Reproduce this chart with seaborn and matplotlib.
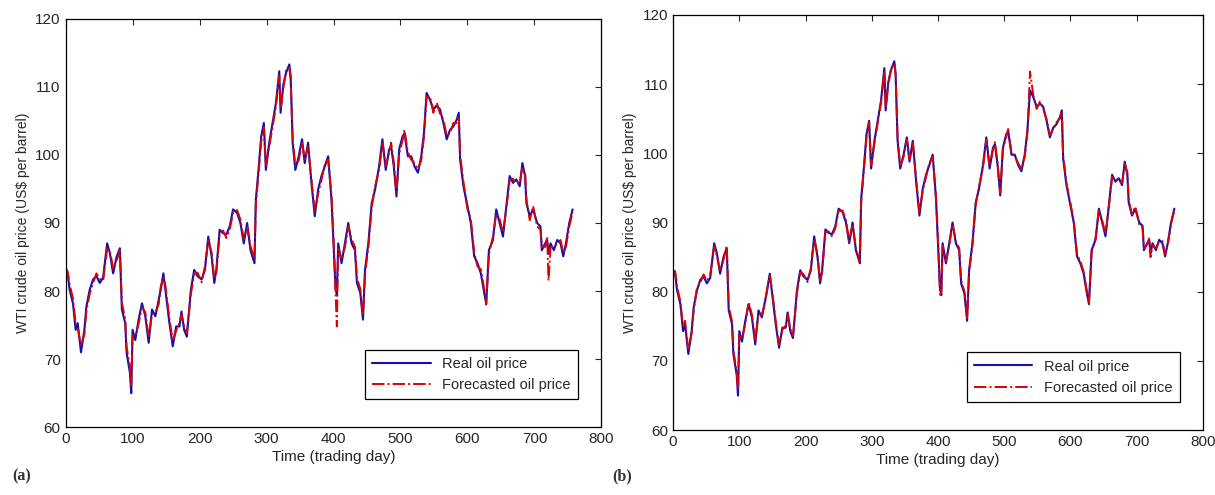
import matplotlib
matplotlib.use("Agg")
import matplotlib.pyplot as plt
import seaborn as sns

# trading days
days = [
    0, 3, 6, 11, 15, 18, 23, 28, 31, 36,
    41, 46, 51, 56, 62, 66, 71, 76, 81, 84,
    89, 91, 96, 98, 100, 104, 109, 114, 119, 124,
    129, 134, 139, 142, 146, 149, 155, 160, 165, 170,
    173, 177, 181, 187, 192, 197, 203, 208, 213, 218,
    222, 225, 230, 235, 240, 245, 250, 256, 261, 266,
    271, 276, 282, 284, 288, 292, 296, 299, 304, 309,
    314, 319, 321, 325, 329, 334, 336, 339, 343, 348,
    353, 357, 362, 367, 372, 377, 382, 387, 392, 397,
    401, 403, 405, 407, 412, 417, 422, 427, 432, 435,
    440, 444, 447, 452, 457, 462, 468, 473, 478, 483,
    486, 490, 494, 498, 503, 506, 511, 516, 521, 526,
    531, 535, 539, 544, 549, 554, 559, 564, 569, 574,
    579, 584, 587, 589, 594, 600, 605, 610, 615, 620,
    625, 628, 630, 632, 638, 643, 648, 653, 658, 663,
    668, 673, 678, 682, 686, 688, 693, 698, 704, 709,
    711, 716, 719, 721, 724, 729, 734, 739, 743, 747,
    752, 757,
]

real_price = [
    83.0, 82.6, 80.2, 78.2, 74.3, 75.3, 71.0, 74.3, 77.7, 80.2,
    81.7, 82.2, 81.2, 82.0, 87.0, 85.6, 82.6, 85.0, 86.3, 77.3,
    75.3, 71.0, 68.0, 65.0, 74.3, 72.8, 75.8, 78.2, 76.3, 72.4,
    77.3, 76.3, 78.7, 80.2, 82.6, 80.2, 75.3, 71.9, 74.8, 74.8,
    77.0, 74.3, 73.3, 80.2, 83.1, 82.2, 81.7, 83.1, 88.0, 85.1,
    81.2, 83.1, 89.0, 88.5, 88.3, 89.5, 92.0, 91.5, 90.0, 87.0,
    90.0, 86.0, 84.1, 93.4, 97.8, 102.7, 104.7, 97.8, 101.8, 104.7,
    107.6, 112.3, 106.2, 110.3, 112.0, 113.3, 111.6, 101.8, 97.8, 99.8,
    102.3, 98.8, 101.8, 95.9, 91.0, 94.9, 96.9, 98.3, 99.8, 93.4,
    85.0, 80.5, 79.5, 87.0, 84.1, 87.0, 90.0, 87.0, 86.0, 81.2,
    79.7, 75.8, 83.1, 87.0, 92.9, 94.9, 98.3, 102.3, 97.8, 100.8,
    101.3, 98.3, 93.9, 100.8, 102.7, 103.2, 99.8, 99.8, 98.3, 97.4,
    99.8, 103.2, 109.1, 108.1, 106.7, 107.2, 106.7, 104.7, 102.3, 103.7,
    104.2, 105.2, 106.2, 99.3, 95.4, 92.5, 90.0, 85.1, 84.1, 82.6,
    79.7, 78.2, 82.2, 86.0, 87.5, 92.0, 90.0, 88.0, 92.5, 96.9,
    95.9, 96.4, 95.4, 98.8, 96.9, 92.9, 91.0, 92.0, 90.0, 89.5,
    86.0, 87.0, 87.5, 85.5, 87.0, 86.0, 87.5, 87.0, 85.1, 87.0,
    90.0, 92.0,
]

# forecast of model (a)
forecast_a = [
    83.4, 82.9, 81.0, 78.9, 75.2, 74.6, 72.0, 73.6, 77.0, 79.6,
    81.2, 82.6, 81.8, 81.5, 86.2, 86.0, 83.3, 84.4, 86.0, 78.3,
    75.9, 71.8, 68.9, 66.2, 73.5, 73.3, 75.2, 77.6, 76.9, 73.2,
    76.6, 76.8, 78.1, 80.6, 82.1, 80.8, 76.0, 72.6, 74.2, 75.3,
    76.5, 74.9, 73.8, 79.5, 82.6, 82.7, 81.3, 83.6, 87.4, 85.7,
    81.8, 82.6, 88.4, 88.9, 87.8, 89.0, 91.5, 91.9, 90.5, 87.6,
    89.4, 86.6, 84.7, 92.7, 97.2, 102.0, 104.1, 98.5, 101.2, 104.1,
    107.1, 111.6, 106.8, 109.7, 112.4, 112.8, 111.0, 102.5, 98.4, 99.2,
    101.8, 99.4, 101.2, 96.5, 91.7, 94.3, 96.3, 98.8, 99.3, 94.1,
    85.6, 79.8, 74.8, 86.3, 84.7, 86.4, 89.5, 87.6, 86.5, 81.9,
    80.3, 76.4, 82.5, 86.4, 92.3, 95.4, 97.7, 101.7, 98.4, 100.2,
    101.8, 98.9, 94.5, 100.2, 102.1, 103.7, 100.4, 99.3, 98.8, 97.9,
    99.2, 102.6, 108.5, 108.6, 106.2, 107.7, 106.1, 105.2, 102.8, 103.2,
    104.7, 104.7, 105.7, 100.0, 96.0, 92.0, 90.6, 85.7, 83.6, 83.2,
    80.3, 78.0, 81.6, 85.4, 88.0, 91.4, 90.6, 88.6, 92.0, 96.3,
    96.5, 95.8, 95.9, 98.2, 97.5, 93.5, 90.4, 92.5, 89.5, 89.0,
    86.5, 86.5, 88.0, 81.5, 86.4, 86.6, 87.0, 87.5, 85.6, 86.5,
    89.5, 91.6,
]

# forecast of model (b)
forecast_b = [
    82.8, 83.0, 80.7, 78.6, 74.9, 75.8, 71.6, 74.0, 77.2, 80.6,
    81.3, 82.5, 81.6, 82.4, 86.5, 85.2, 83.0, 84.6, 86.6, 77.9,
    75.7, 71.5, 68.5, 65.8, 73.9, 73.2, 75.4, 78.5, 76.7, 72.9,
    76.9, 76.7, 78.4, 80.5, 82.3, 80.6, 75.7, 72.3, 74.5, 75.1,
    76.7, 74.6, 73.6, 79.8, 82.8, 82.5, 81.4, 83.4, 87.6, 85.4,
    81.5, 82.8, 88.6, 88.7, 88.0, 89.2, 91.7, 91.7, 90.3, 87.3,
    89.7, 86.3, 84.4, 93.0, 97.5, 102.3, 104.4, 98.2, 101.5, 104.4,
    107.3, 111.9, 106.6, 110.0, 112.2, 113.0, 111.3, 102.2, 98.1, 99.5,
    102.0, 99.1, 101.5, 96.2, 91.4, 94.6, 96.6, 98.6, 99.5, 93.8,
    85.4, 79.6, 79.9, 86.6, 84.4, 86.7, 89.7, 87.3, 86.3, 81.6,
    80.0, 76.2, 82.8, 86.7, 92.6, 95.2, 98.0, 102.0, 98.1, 100.5,
    101.6, 98.6, 94.2, 100.5, 102.4, 103.5, 100.1, 99.6, 98.6, 97.7,
    99.5, 102.9, 111.8, 108.4, 106.4, 107.5, 106.4, 104.9, 102.6, 103.5,
    104.5, 105.0, 106.0, 99.7, 95.7, 92.8, 90.3, 85.4, 84.4, 82.9,
    80.0, 78.4, 81.9, 85.7, 87.8, 91.7, 90.3, 88.3, 92.2, 96.6,
    96.2, 96.1, 95.7, 98.5, 97.2, 93.2, 91.2, 92.3, 89.7, 89.2,
    86.3, 86.8, 87.7, 85.0, 86.7, 86.3, 87.2, 87.3, 85.4, 86.8,
    89.8, 91.8,
]

x_ticks = [0, 100, 200, 300, 400, 500, 600, 700, 800]
y_ticks = [60, 70, 80, 90, 100, 110, 120]

sns.set_style("white")
plt.rcParams['font.family'] = ['Liberation Sans', 'DejaVu Sans']

fig = plt.figure(figsize=(12.15, 4.95), dpi=100)
ax_a = fig.add_axes([0.054, 0.137, 0.441, 0.825])
ax_b = fig.add_axes([0.554, 0.131, 0.436, 0.839])

panels = [(ax_a, forecast_a, "(a)", 0.010), (ax_b, forecast_b, "(b)", 0.504)]

for ax, forecast, tag, tag_x in panels:
    sns.lineplot(x=days, y=real_price, ax=ax, color="#1010b0", lw=1.5,
                 label="Real oil price")
    sns.lineplot(x=days, y=forecast, ax=ax, color="#e00000", lw=1.4,
                 linestyle="-.", label="Forecasted oil price")
    ax.set_xlim(0, 800)
    ax.set_ylim(60, 120)
    ax.set_xticks(x_ticks)
    ax.set_yticks(y_ticks)
    ax.tick_params(direction="in", top=True, right=True, length=4,
                   labelsize=11, width=0.8)
    for sp in ax.spines.values():
        sp.set_color("black")
        sp.set_linewidth(0.9)
    ax.set_xlabel("Time (trading day)", fontsize=11, labelpad=3)
    ax.set_ylabel("WTI crude oil price (US$ per barrel)", fontsize=10, labelpad=4)
    leg = ax.legend(loc="lower right", bbox_to_anchor=(0.97, 0.05),
                    fancybox=False, framealpha=1, edgecolor="black",
                    fontsize=10.5, handlelength=4, borderpad=0.5,
                    labelspacing=0.5)
    leg.get_frame().set_linewidth(0.9)
    fig.text(tag_x, 0.03, tag, fontsize=11.5, fontweight="bold",
             family="Liberation Serif", color="#333333")

fig.savefig("out.png", dpi=100)
